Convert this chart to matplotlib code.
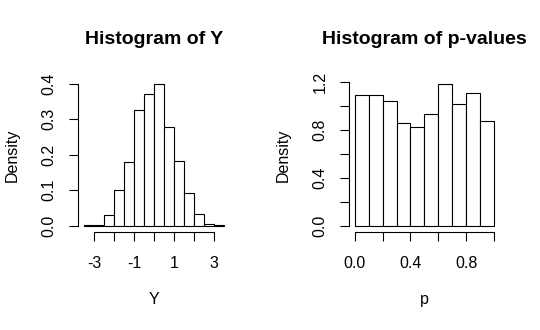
import matplotlib
matplotlib.use("Agg")
import matplotlib.pyplot as plt
import numpy as np

plt.rcParams['font.family'] = ['Liberation Sans', 'DejaVu Sans']

# Histogram of Y (density, bins of 0.5)
y_edges = [-3.5, -3.0, -2.5, -2.0, -1.5, -1.0, -0.5, 0.0, 0.5, 1.0, 1.5, 2.0, 2.5, 3.0, 3.5]
y_density = [0.002, 0.003, 0.031, 0.101, 0.180, 0.327, 0.371, 0.399, 0.278, 0.182, 0.092, 0.033, 0.005, 0.002]

# Histogram of p-values (density, bins of 0.1)
p_edges = [0.0, 0.1, 0.2, 0.3, 0.4, 0.5, 0.6, 0.7, 0.8, 0.9, 1.0]
p_density = [1.098, 1.098, 1.045, 0.860, 0.827, 0.936, 1.187, 1.020, 1.112, 0.877]

y_xticks = [-3, -2, -1, 0, 1, 2, 3]
y_xlabels = ['-3', '', '-1', '', '1', '', '3']
y_yticks = [0.0, 0.1, 0.2, 0.3, 0.4]
y_ylabels = ['0.0', '0.1', '0.2', '0.3', '0.4']
p_xticks = [0.0, 0.2, 0.4, 0.6, 0.8, 1.0]
p_xlabels = ['0.0', '', '0.4', '', '0.8', '']
p_yticks = [0.0, 0.2, 0.4, 0.6, 0.8, 1.0, 1.2]
p_ylabels = ['0.0', '', '0.4', '', '0.8', '', '1.2']

fig = plt.figure(figsize=(5.4, 3.3), dpi=100)
ax1 = fig.add_axes([0.145, 0.298, 0.28, 0.465])
ax2 = fig.add_axes([0.6465, 0.298, 0.279, 0.465])


def r_hist(ax, edges, dens, xticks, xlabels, yticks, ylabels, title, xlab):
    edges = np.array(edges)
    ax.bar(edges[:-1], dens, width=np.diff(edges), align='edge',
           color='white', edgecolor='black', linewidth=0.8)
    # R style 4% padding
    xr = edges[-1] - edges[0]
    ax.set_xlim(edges[0] - 0.04 * xr, edges[-1] + 0.04 * xr)
    ymax = max(dens)
    ax.set_ylim(-0.04 * ymax, ymax * 1.04)
    for s in ['top', 'right']:
        ax.spines[s].set_visible(False)
    ax.spines['bottom'].set_bounds(xticks[0], xticks[-1])
    ax.spines['left'].set_bounds(yticks[0], yticks[-1])
    for s in ['bottom', 'left']:
        ax.spines[s].set_linewidth(0.8)
    ax.set_xticks(xticks)
    ax.set_xticklabels(xlabels)
    ax.set_yticks(yticks)
    ax.set_yticklabels(ylabels, rotation=90, va='center')
    ax.tick_params(length=6.5, width=0.8, labelsize=11.5)
    ax.tick_params(axis='x', pad=11)
    ax.tick_params(axis='y', pad=9)
    ax.patch.set_visible(False)
    ax.text(0.5, 1.25, title, transform=ax.transAxes, ha='center', va='center',
            fontsize=14, fontweight='bold')
    ax.set_xlabel(xlab, fontsize=11.5, va='center')
    ax.set_ylabel('Density', fontsize=11.5, va='center')
    ax.xaxis.set_label_coords(0.5, -0.445)
    ax.yaxis.set_label_coords(-0.44, 0.5)


r_hist(ax1, y_edges, y_density, y_xticks, y_xlabels, y_yticks, y_ylabels,
       'Histogram of Y', 'Y')
r_hist(ax2, p_edges, p_density, p_xticks, p_xlabels, p_yticks, p_ylabels,
       'Histogram of p-values', 'p')

fig.savefig('out.png', dpi=100)
